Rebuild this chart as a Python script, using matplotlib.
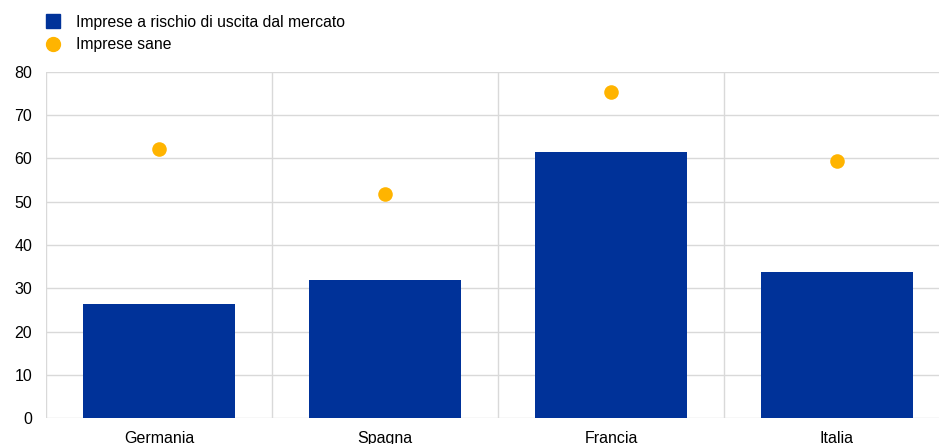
import matplotlib
matplotlib.use("Agg")
import matplotlib.pyplot as plt
from matplotlib.lines import Line2D

plt.rcParams['font.family'] = ['Liberation Sans', 'DejaVu Sans']

countries = ["Germania", "Spagna", "Francia", "Italia"]
rischio = [26.4, 31.9, 61.4, 33.8]
sane = [62.2, 51.8, 75.3, 59.4]

blue = "#003299"
yellow = "#FFB400"
grid = "#d9d9d9"

fig = plt.figure(figsize=(9.39, 4.44), dpi=100)
ax = fig.add_axes([46 / 939, 1 - 418 / 444, 904 / 939, 346 / 444])

x = range(len(countries))
ax.bar(x, rischio, width=0.67, color=blue, zorder=2)
ax.scatter(x, sane, s=110, color=yellow, zorder=3, linewidths=0)

ax.set_xlim(-0.5, 3.5)
ax.set_ylim(0, 80)
ax.set_yticks(range(0, 81, 10))
ax.set_xticks(list(x))
ax.set_xticklabels(countries)
for b in [-0.5, 0.5, 1.5, 2.5, 3.5]:
    ax.axvline(b, color=grid, lw=1, zorder=1)
ax.yaxis.grid(True, color=grid, lw=1, zorder=1)
ax.set_axisbelow(True)
for s in ax.spines.values():
    s.set_visible(False)
ax.tick_params(axis='both', length=0, labelsize=11.5, colors='black')
ax.tick_params(axis='y', pad=10)
ax.tick_params(axis='x', pad=9)

handles = [
    Line2D([], [], marker='s', color=blue, linestyle='none', markersize=10),
    Line2D([], [], marker='o', color=yellow, linestyle='none', markersize=10),
]
fig.legend(handles, ["Imprese a rischio di uscita dal mercato", "Imprese sane"],
           loc='upper left', bbox_to_anchor=(30 / 939, 1 - 4 / 444), frameon=False,
           fontsize=11.3, handletextpad=0.7, labelspacing=0.45, borderaxespad=0.3,
           handlelength=1.5)

fig.savefig("out.png", dpi=100)
